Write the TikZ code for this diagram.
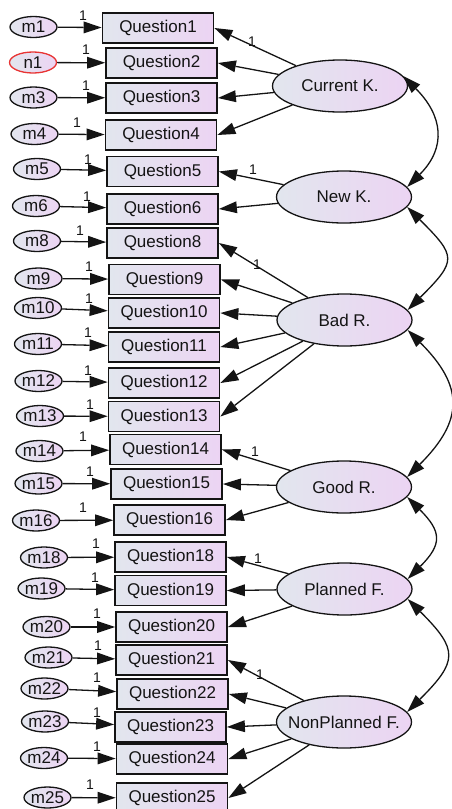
\documentclass[tikz,border=0pt]{standalone}
\usepackage{fontspec}
\setmainfont{Liberation Sans}
\usetikzlibrary{arrows.meta,shapes.geometric}
\definecolor{fl}{RGB}{226,230,238}
\definecolor{fr}{RGB}{236,212,243}
\definecolor{ink}{RGB}{20,20,20}
\definecolor{redline}{RGB}{232,52,52}
\begin{document}
\begin{tikzpicture}[x=1pt,y=1pt,
  every node/.style={font=\fontsize{17}{20}\selectfont, text=ink},
  obs/.style={draw=ink, line width=1.8pt, left color=fl, right color=fr, minimum width=111pt, minimum height=30pt, inner sep=0pt},
  err/.style={ellipse, draw=ink, line width=1.3pt, left color=fl, right color=fr, minimum width=47pt, minimum height=21pt, inner sep=0pt},
  lat/.style={ellipse, draw=ink, line width=1.3pt, left color=fl, right color=fr, minimum width=135pt, minimum height=52pt, inner sep=0pt},
  one/.style={font=\fontsize{14}{16}\selectfont, inner sep=0pt},
  tipa/.tip={Triangle[length=18pt,width=12pt,line width=0pt]},
  arr/.style={draw=ink, line width=1.3pt, arrows={-tipa}},
  cov/.style={draw=ink, line width=1.3pt, arrows={tipa-tipa}},
]
\useasboundingbox (0,0) rectangle (451,-809);

% observed variables
\node[obs] (q1)  at (158,-28)    {Question1};
\node[obs] (q2)  at (161.5,-63)  {Question2};
\node[obs] (q3)  at (161.5,-98)  {Question3};
\node[obs] (q4)  at (161,-135)   {Question4};
\node[obs] (q5)  at (162.5,-171.5) {Question5};
\node[obs] (q6)  at (162.5,-209) {Question6};
\node[obs] (q8)  at (162.5,-243) {Question8};
\node[obs] (q9)  at (164.5,-279.5) {Question9};
\node[obs] (q10) at (164,-313)   {Question10};
\node[obs] (q11) at (164,-347)   {Question11};
\node[obs] (q12) at (164,-383)   {Question12};
\node[obs] (q13) at (164,-416.5) {Question13};
\node[obs] (q14) at (165.5,-449.5) {Question14};
\node[obs] (q15) at (166.5,-484) {Question15};
\node[obs] (q16) at (169.5,-520) {Question16};
\node[obs] (q18) at (170.5,-557) {Question18};
\node[obs] (q19) at (170.5,-590.5) {Question19};
\node[obs] (q20) at (171.5,-627) {Question20};
\node[obs] (q21) at (171.5,-660) {Question21};
\node[obs] (q22) at (172.5,-694) {Question22};
\node[obs] (q23) at (170.5,-727) {Question23};
\node[obs] (q24) at (172,-759)   {Question24};
\node[obs] (q25) at (172,-798)   {Question25};

% error terms
\node[err] (m1)  at (33.5,-27)   {m1};
\node[err, draw=redline] (n1) at (33,-62.5) {n1};
\node[err] (m3)  at (33.5,-97.5) {m3};
\node[err] (m4)  at (34.5,-134)  {m4};
\node[err] (m5)  at (37,-169)    {m5};
\node[err] (m6)  at (36,-206)    {m6};
\node[err] (m8)  at (37,-241)    {m8};
\node[err] (m9)  at (38.5,-278.5) {m9};
\node[err] (m10) at (38,-308)    {m10};
\node[err] (m11) at (38,-344)    {m11};
\node[err] (m12) at (38.5,-381)  {m12};
\node[err] (m13) at (40,-416)    {m13};
\node[err] (m14) at (39.5,-451)  {m14};
\node[err] (m15) at (38.5,-483.5) {m15};
\node[err] (m16) at (36,-520.5)  {m16};
\node[err] (m18) at (44,-557.5)  {m18};
\node[err] (m19) at (41.5,-588.5) {m19};
\node[err] (m20) at (46.5,-627)  {m20};
\node[err] (m21) at (48.5,-657.5) {m21};
\node[err] (m22) at (44.5,-688.5) {m22};
\node[err] (m23) at (45,-721.5)  {m23};
\node[err] (m24) at (44,-758)    {m24};
\node[err] (m25) at (47.5,-797.5) {m25};

% latent variables
\node[lat] (ck)  at (340,-86)   {\makebox[0pt]{Current K.}};
\node[lat] (nk)  at (344,-197)  {\makebox[0pt]{New K.}};
\node[lat] (br)  at (344.5,-320) {\makebox[0pt]{Bad R.}};
\node[lat] (gr)  at (344,-487)  {\makebox[0pt]{Good R.}};
\node[lat] (pf)  at (344.5,-589) {\makebox[0pt]{Planned F.}};
\node[lat] (npf) at (344,-722)  {\makebox[0pt]{NonPlanned F.}};

% error arrows
\foreach \e/\q in {m1/q1,n1/q2,m3/q3,m4/q4,m5/q5,m6/q6,m8/q8,m9/q9,m10/q10,m11/q11,m12/q12,m13/q13,m14/q14,m15/q15,m16/q16,m18/q18,m19/q19,m20/q20,m21/q21,m22/q22,m23/q23,m24/q24,m25/q25}
  \draw[arr] (\e) -- (\q);

% error weights
\foreach \x/\y [count=\i] in {83/16,86/50,86/86,77/123,88/160,87/197,80/231,89/267,89/299,88/333,88/371,90/405,83/437,90/472,83/508,96/544,95/578,97/614,98/646,97/678,97/713,97/747,90/785}
  \node[one] (w\i) at (\x,-\y) {1};

% loadings
\foreach \q in {q1,q2,q3,q4} \draw[arr] (ck) -- (\q.east);
\foreach \q in {q5,q6} \draw[arr] (nk) -- (\q.east);
\foreach \q in {q8,q9,q10,q11,q12,q13} \draw[arr] (br) -- (\q.east);
\foreach \q in {q14,q15,q16} \draw[arr] (gr) -- (\q.east);
\foreach \q in {q18,q19,q20} \draw[arr] (pf) -- (\q.east);
\foreach \q in {q21,q22,q23,q24,q25} \draw[arr] (npf) -- (\q.east);

\node[one] (l1) at (252,-42)  {1};
\node[one] (l2) at (253,-170) {1};
\node[one] (l3) at (257,-265) {1};
\node[one] (l4) at (255,-452) {1};
\node[one] (l5) at (258,-559) {1};
\node[one] (l6) at (260,-675) {1};

% covariances
\draw[cov] (ck.9)  .. controls +(-45:56) and +(45:56) .. (nk.9);
\draw[cov] (nk.-9) .. controls +(-45:70) and +(45:70) .. (br.9);
\draw[cov] (br.-9) .. controls +(-45:80) and +(45:80) .. (gr.9);
\draw[cov] (gr.-9) .. controls +(-45:49) and +(45:49) .. (pf.9);
\draw[cov] (pf.-9) .. controls +(-45:72) and +(45:72) .. (npf.9);
\end{tikzpicture}
\end{document}
